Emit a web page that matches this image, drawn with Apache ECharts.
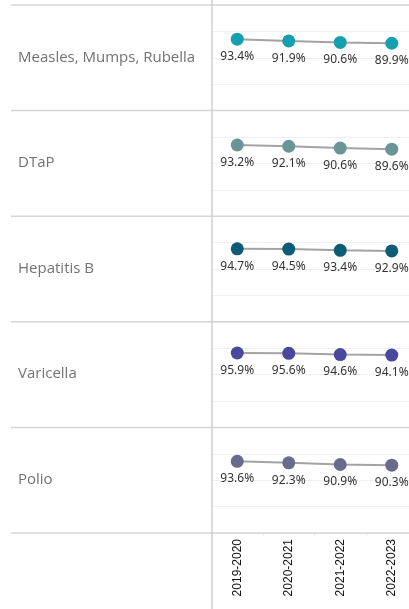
<!DOCTYPE html>
<html>
<head>
<meta charset="utf-8">
<script src="https://cdn.jsdelivr.net/npm/echarts@6/dist/echarts.min.js"></script>
<style>
html,body{margin:0;padding:0;background:#fff;overflow:hidden;width:409px;height:609px;}
#chart{width:420px;height:609px;}
</style>
</head>
<body>
<div id="chart"></div>
<script>
const years = ["2019-2020", "2020-2021", "2021-2022", "2022-2023"];
const vaccines = ["Measles, Mumps, Rubella", "DTaP", "Hepatitis B", "Varicella", "Polio"];
const mmr = [93.4, 91.9, 90.6, 89.9];
const dtap = [93.2, 92.1, 90.6, 89.6];
const hepB = [94.7, 94.5, 93.4, 92.9];
const varicella = [95.9, 95.6, 94.6, 94.1];
const polio = [93.6, 92.3, 90.9, 90.3];
const colors = ["#16a0ae", "#6a9596", "#0c5c78", "#4c479e", "#6c6a8c"];
const seriesValues = [mmr, dtap, hepB, varicella, polio];

const top0 = 5, rowH = 105.6, gLeft = 211.5, gWidth = 206;
const grids = [], xAxes = [], yAxes = [], series = [], graphics = [];
vaccines.forEach((name, i) => {
  const top = top0 + i * rowH;
  grids.push({left: gLeft, top: top, width: gWidth, height: rowH});
  const last = i === vaccines.length - 1;
  xAxes.push({
    type: 'category', gridIndex: i, data: years, boundaryGap: true,
    axisLine: {show: false},
    axisTick: {show: last, alignWithLabel: false, length: 3, lineStyle: {color: '#eeeeee'}},
    axisLabel: {show: last, rotate: 90, margin: 6, color: '#111', fontSize: 12,
      fontFamily: 'Liberation Sans, Arial, sans-serif'}
  });
  yAxes.push({
    type: 'value', gridIndex: i, min: 32.5, max: 122.5, interval: 22.5,
    axisLine: {show: false}, axisTick: {show: false}, axisLabel: {show: false},
    splitLine: {lineStyle: {color: '#f0f0f0', width: 1}}
  });
  series.push({
    type: 'line', xAxisIndex: i, yAxisIndex: i, data: seriesValues[i],
    symbol: 'circle', symbolSize: 13,
    lineStyle: {color: '#a3a3a3', width: 2},
    itemStyle: {color: colors[i]},
    label: {show: true, position: 'bottom', distance: 5, color: '#333', fontSize: 12,
      fontFamily: 'Noto Sans, sans-serif', formatter: p => p.value.toFixed(1) + '%'},
    emphasis: {disabled: true}, silent: true, animation: false, z: 3
  });
  graphics.push({
    type: 'text', left: 18, top: top + rowH / 2 - 8,
    style: {text: name, fill: '#727272', fontSize: 15, fontFamily: 'Open Sans, Noto Sans, sans-serif'}
  });
});
for (let i = 0; i <= vaccines.length; i++) {
  const y = top0 + i * rowH;
  graphics.push({type: 'line', shape: {x1: 11, y1: y, x2: 420, y2: y},
    style: {stroke: '#d6d6d6', lineWidth: 1.5}, z: 1});
}
graphics.push({type: 'line', shape: {x1: 212, y1: 0, x2: 212, y2: 609},
  style: {stroke: '#cfcfcf', lineWidth: 1.5}, z: 1});

const chart = echarts.init(document.getElementById('chart'), null, {renderer: 'canvas'});
chart.setOption({
  animation: false,
  grid: grids, xAxis: xAxes, yAxis: yAxes, series: series, graphic: graphics
});
</script>
</body>
</html>
